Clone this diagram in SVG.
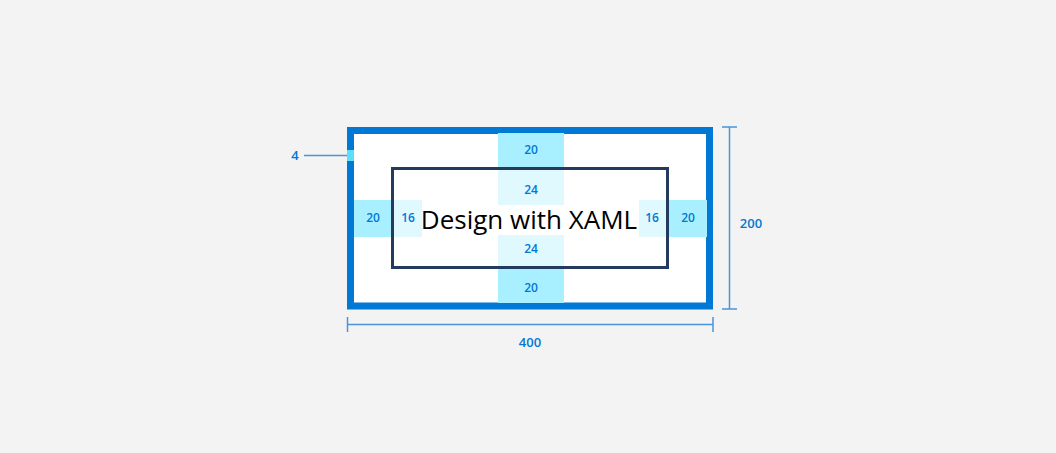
<svg xmlns="http://www.w3.org/2000/svg" width="1056" height="453" viewBox="0 0 1056 453">
<style>
.lbl{font-family:"Open Sans","Noto Sans",sans-serif;font-size:12px;font-weight:600;fill:#0078d4;text-anchor:middle}
.dim{font-family:"Open Sans","Noto Sans",sans-serif;font-size:13px;font-weight:600;fill:#0078d4;text-anchor:middle}
.dl{stroke:#4a94dc;stroke-width:1.5;fill:none}
.m20{fill:#a8f0ff}
.m24{fill:#dff9ff}
</style>
<rect width="1056" height="453" fill="#f3f3f3"/>
<g id="outer-border">
<rect x="350.5" y="130.5" width="359" height="175.5" fill="#ffffff" stroke="#0078d4" stroke-width="7"/>
<rect x="347" y="150" width="7" height="11" fill="#5ce0f8"/>
</g>
<g id="margins">
<rect class="m20" x="498" y="133" width="66" height="34"/>
<rect class="m20" x="498" y="269" width="66" height="34"/>
<rect class="m20" x="354" y="200" width="37" height="37"/>
<rect class="m20" x="669" y="200" width="38" height="37"/>
</g>
<g id="paddings">
<rect class="m24" x="498" y="170" width="66" height="35"/>
<rect class="m24" x="498" y="235" width="66" height="31"/>
<rect class="m24" x="394" y="200" width="28" height="37"/>
<rect class="m24" x="639" y="200" width="27" height="37"/>
</g>
<g id="inner-box">
<rect x="392.5" y="168.5" width="275" height="99" fill="none" stroke="#243a5e" stroke-width="3"/>
<text x="529" y="228.5" font-family="'Open Sans','Noto Sans',sans-serif" font-size="26" fill="#000000" text-anchor="middle">Design with XAML</text>
</g>
<g id="labels">
<text class="lbl" x="531" y="154">20</text>
<text class="lbl" x="531" y="194">24</text>
<text class="lbl" x="531" y="253">24</text>
<text class="lbl" x="531" y="292">20</text>
<text class="lbl" x="373" y="222">20</text>
<text class="lbl" x="408" y="222">16</text>
<text class="lbl" x="652" y="222">16</text>
<text class="lbl" x="688" y="222">20</text>
</g>
<g id="connectors">
<line class="dl" x1="304" y1="155.5" x2="347" y2="155.5"/>
<line class="dl" x1="729.5" y1="127" x2="729.5" y2="309"/>
<line class="dl" x1="722" y1="127" x2="737" y2="127"/>
<line class="dl" x1="722" y1="309" x2="737" y2="309"/>
<line class="dl" x1="347" y1="324.5" x2="713" y2="324.5"/>
<line class="dl" x1="347.5" y1="317" x2="347.5" y2="332"/>
<line class="dl" x1="713" y1="317" x2="713" y2="332"/>
</g>
<g id="dimension-labels">
<text class="dim" x="295" y="160">4</text>
<text class="dim" x="751" y="228">200</text>
<text class="dim" x="530" y="347">400</text>
</g>
</svg>
